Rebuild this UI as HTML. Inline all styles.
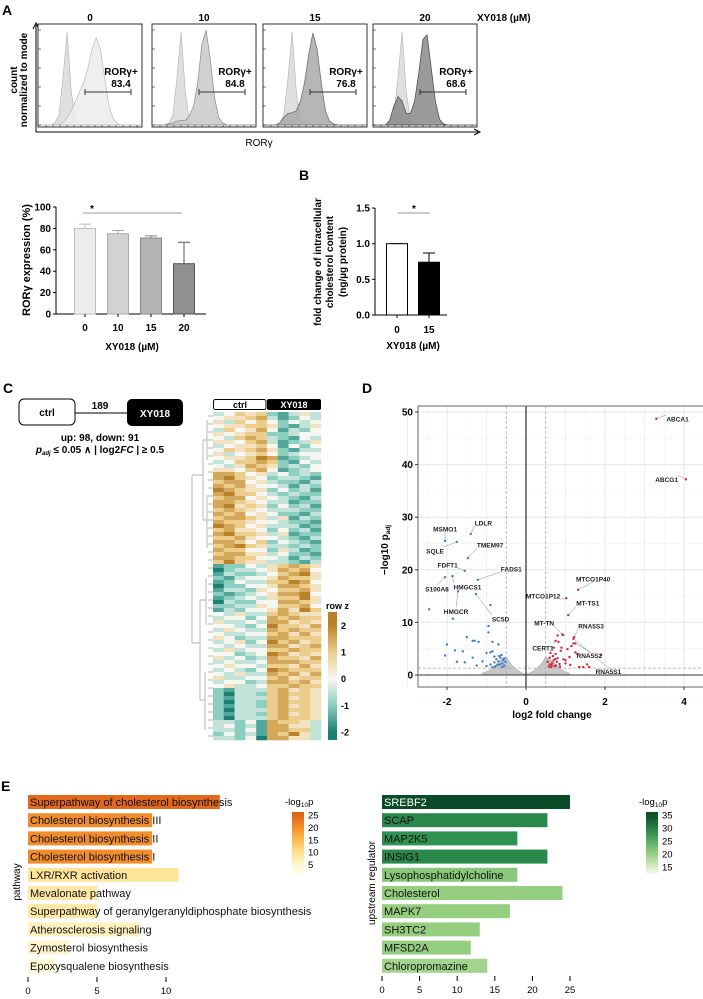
<!DOCTYPE html>
<html><head><meta charset="utf-8"><style>
html,body{margin:0;padding:0;background:#fff;}
svg{display:block;font-family:"Liberation Sans",Arial,sans-serif;}
</style></head><body>
<svg id="fig" width="703" height="999" viewBox="0 0 703 999" xmlns="http://www.w3.org/2000/svg">
<g font-weight="bold" font-size="14">
<text x="2" y="15">A</text>
<text x="299" y="180">B</text>
<text x="3" y="393">C</text>
<text x="362" y="393">D</text>
<text x="1" y="791">E</text>
</g>
<g id="static" font-weight="bold" font-size="10">
<text x="477" y="21">XY018 (µM)</text>
<text x="259" y="146" text-anchor="middle" font-weight="normal">RORγ</text>
<text transform="translate(17,80) rotate(-90)" text-anchor="middle">count</text>
<text transform="translate(27,80) rotate(-90)" text-anchor="middle">normalized to mode</text>
<text x="132" y="350" text-anchor="middle">XY018 (µM)</text>
<text transform="translate(30,260) rotate(-90)" text-anchor="middle" font-size="11">RORγ expression (%)</text>
<text x="413" y="349" text-anchor="middle">XY018 (µM)</text>
<text transform="translate(321,262) rotate(-90)" text-anchor="middle">fold change of intracellular</text>
<text transform="translate(333,262) rotate(-90)" text-anchor="middle">cholesterol content</text>
<text transform="translate(346,262) rotate(-90)" text-anchor="middle">(ng/µg protein)</text>
</g>
<g>
<rect x="19" y="399" width="56" height="26" rx="5" fill="#fff" stroke="#000" stroke-width="1"/>
<text x="47" y="416" text-anchor="middle" font-size="10" font-weight="bold">ctrl</text>
<line x1="75" y1="413" x2="127" y2="413" stroke="#000"/>
<text x="100" y="409" text-anchor="middle" font-size="10" font-weight="bold">189</text>
<rect x="127" y="399" width="56" height="27" rx="5" fill="#000"/>
<text x="155" y="417" text-anchor="middle" font-size="10" font-weight="bold" fill="#fff">XY018</text>
<text x="100" y="441" text-anchor="middle" font-size="10" font-weight="bold">up: 98, down: 91</text>
<text x="100" y="453" text-anchor="middle" font-size="10" font-weight="bold"><tspan font-style="italic">p</tspan><tspan font-style="italic" font-size="6" dy="2">adj</tspan><tspan dy="-2"> ≤ 0.05 ∧ | log2</tspan><tspan font-style="italic">FC</tspan><tspan> | ≥ 0.5</tspan></text>
</g>
</svg>
<script>
const NS='http://www.w3.org/2000/svg';
const svg=document.getElementById('fig');
function el(tag,attrs,parent){const e=document.createElementNS(NS,tag);for(const k in attrs)e.setAttribute(k,attrs[k]);(parent||svg).appendChild(e);return e;}
function tx(str,attrs,parent){const e=el('text',attrs,parent);e.textContent=str;return e;}

/* ===== Panel A histograms ===== */
const histDoses=['0','10','15','20'];
const histPct=['83.4','84.8','76.8','68.6'];
const histCtrl=[0,0,0,0,0.02,0.1,0.5,0.98,0.35,0.05,0.01,0,0,0,0,0,0,0,0,0,0,0,0,0,0,0];
const histS0=[0,0,0,0,0,0,0.03,0.08,0.15,0.25,0.35,0.45,0.6,0.8,0.92,0.8,0.5,0.22,0.07,0.02,0,0,0,0,0,0];
const histS1=[0,0,0,0,0.01,0.02,0.04,0.05,0.05,0.1,0.2,0.45,0.85,1.0,0.7,0.3,0.08,0.02,0,0,0,0,0,0,0,0];
const histS2=[0,0,0,0,0.02,0.08,0.12,0.13,0.15,0.25,0.45,0.75,0.97,0.8,0.45,0.15,0.04,0.01,0,0,0,0,0,0,0,0];
const histS3=[0,0,0,0,0.05,0.2,0.3,0.25,0.12,0.12,0.25,0.55,0.9,0.95,0.6,0.25,0.06,0.01,0,0,0,0,0,0,0,0];
const histSamples=[histS0,histS1,histS2,histS3];
const boxX=[38,152,263,373], boxW=104, boxTop=24, boxBot=127, base=125, hgt=95;
const fills=['#ececec','#c9c9c9','#a9a9a9','#8a8a8a'], strokes=['#bbb','#888','#666','#444'];
function hpath(vals,x0){let d='M'+x0+','+base;vals.forEach((v,i)=>{d+=' L'+(x0+i/(vals.length-1)*boxW).toFixed(1)+','+(base-v*hgt).toFixed(1);});return d+' L'+(x0+boxW)+','+base+' Z';}
const ax=el('path',{d:'M36,132 L36,25 M33,29 L36,23 L39,29 M36,132 L478,132 M474,129 L480,132 L474,135',fill:'none',stroke:'#000','stroke-width':1});


histDoses.forEach((d,i)=>{
  const x0=boxX[i];
  const g=el('g',{});
  
  
  const b=el('rect',{x:x0,y:boxTop,width:boxW,height:boxBot-boxTop,fill:'#fff',stroke:'#000','stroke-width':0.8},g);
  
  
  const c=el('path',{d:hpath(histCtrl,x0),fill:'#dcdcdc',stroke:'#aaa','stroke-width':0.6,opacity:0.9},g);
  
  
  const s=el('path',{d:hpath(histSamples[i],x0),fill:fills[i],stroke:strokes[i],'stroke-width':0.7,'fill-opacity':0.85},g);
  
  
  let tk='';for(let k=0;k<6;k++){const y=boxBot-2-k*19;tk+='M'+x0+','+y+' l3,0 ';}
  for(let k=0;k<14;k++){const x=x0+8+k*7;tk+='M'+x+','+boxBot+' l0,-2 ';}
  const t=el('path',{d:tk,stroke:'#000','stroke-width':0.5},g);
  
  
  const gl=x0+47, gr=x0+93;
  const gate=el('path',{d:`M${gl},92 L${gr},92 M${gl},89 L${gl},95 M${gr},89 L${gr},95`,stroke:'#333','stroke-width':1},g);
  
  
  const l1=tx('RORγ+',{x:x0+83,y:75,'text-anchor':'middle','font-size':10,'font-weight':'bold'},g);
  
  
  const l2=tx(histPct[i],{x:x0+83,y:87,'text-anchor':'middle','font-size':10,'font-weight':'bold'},g);
  
  
  const h=tx(d,{x:x0+boxW/2,y:21,'text-anchor':'middle','font-size':10,'font-weight':'bold'},g);
  
  
});

/* ===== Panel A bar chart ===== */
const aCats=['0','10','15','20'];
const aVals=[80,75,71,47];
const aErr=[84,78,73,67];
const aTicks=[0,20,40,60,80,100];
const aFill=['#ececec','#d2d2d2','#b4b4b4','#909090'], aStroke=['#bbb','#aaa','#888','#555'];
const aX=i=>85+i*33, aY=v=>314-v*1.07;
const aAx=el('path',{d:'M56,'+aY(100)+' L56,314 L206,314',fill:'none',stroke:'#000','stroke-width':1});


aTicks.forEach(t=>{
  const l=el('line',{x1:53,x2:56,y1:aY(t),y2:aY(t),stroke:'#000'});
  
  
  const s=tx(String(t),{x:51,y:aY(t)+3.5,'text-anchor':'end','font-size':10,'font-weight':'bold'});
  
  
});
aCats.forEach((c,i)=>{
  const x=aX(i);
  const e=el('path',{d:`M${x},${aY(aVals[i])} L${x},${aY(aErr[i])} M${x-6},${aY(aErr[i])} L${x+6},${aY(aErr[i])}`,stroke:aStroke[i],'stroke-width':1});
  
  
  const r=el('rect',{x:x-10.5,y:aY(aVals[i]),width:21,height:314-aY(aVals[i]),fill:aFill[i],stroke:aStroke[i],'stroke-width':1});
  
  
  const tk=el('line',{x1:x,x2:x,y1:314,y2:317,stroke:'#000'});
  
  
  const t=tx(c,{x:x,y:331,'text-anchor':'middle','font-size':10,'font-weight':'bold'});
  
  
});
const aSig=el('line',{x1:83,x2:182,y1:213,y2:213,stroke:'#999','stroke-width':1});


const aStar=tx('*',{x:92,y:212,'text-anchor':'middle','font-size':10,'font-weight':'bold'});



/* ===== Panel B bar chart ===== */
const bCats=['0','15'];
const bVals=[1.0,0.74];
const bErr=[1.0,0.87];
const bTicks=['0.0','0.5','1.0','1.5'];
const bX=i=>397+i*32, bY=v=>315-v*71.3;
const bAx=el('path',{d:'M375,'+bY(1.5)+' L375,315 L447,315',fill:'none',stroke:'#000','stroke-width':1});


bTicks.forEach(t=>{
  const v=parseFloat(t);
  const l=el('line',{x1:372,x2:375,y1:bY(v),y2:bY(v),stroke:'#000'});
  
  
  const s=tx(t,{x:370,y:bY(v)+3.5,'text-anchor':'end','font-size':10,'font-weight':'bold'});
  
  
});
bCats.forEach((c,i)=>{
  const x=bX(i);
  const e=el('path',{d:`M${x},${bY(bVals[i])} L${x},${bY(bErr[i])} M${x-6},${bY(bErr[i])} L${x+6},${bY(bErr[i])}`,stroke:'#000','stroke-width':1});
  
  
  const r=el('rect',{x:x-10.5,y:bY(bVals[i]),width:21,height:315-bY(bVals[i]),fill:i?'#000':'#fff',stroke:'#000','stroke-width':1});
  
  
  const tk=el('line',{x1:x,x2:x,y1:315,y2:318,stroke:'#000'});
  
  
  const t=tx(c,{x:x,y:333,'text-anchor':'middle','font-size':10,'font-weight':'bold'});
  
  
});
const bSig=el('line',{x1:398,x2:430,y1:213,y2:213,stroke:'#999','stroke-width':1});


const bStar=tx('*',{x:414,y:212,'text-anchor':'middle','font-size':10,'font-weight':'bold'});



/* ===== Panel C heatmap ===== */
const hmRows=[
"3465621353","4556731243","5364642434","4556652135","3645741324","5456622344","4367632143","5546731235","3455641424","4656752133","5345642344","4556871234","3466762143","4357652324","5546741234",
"7764534232","7865423321","6774532213","7675443132","8765524231","7866432322","6774543213","7765433122","7856524231","6765433322","7674542213","6776535132","7665443221","8764533312","6755424231","7866535122","6675443213","7764624321","6786533232","7664425312","6775534221","7766443132","6865533213",
"1224356765","0233457674","1322346785","2134457665","1243366874","0224457765","1332546675","2123457784","1234356685","0322447765","2233546674","1324457586",
"4353367655","3442476766","5334377565","4432486657","3543376766","4334467575","5423377666","3452486756","4343377567","3534466766","4423487565","5342376657","3433477766","4544366575","3432487666","4353376757","5334467566","3442377675","4533466766",
"2133367565","2033267665","2133367565","2033267665","2133267565","2033367665","2133267565","2033367665","3324176653","3423177553","3324177663","2423176853","3324077553"];
const hmCols=['ctrl','ctrl','ctrl','ctrl','ctrl','XY018','XY018','XY018','XY018','XY018'];
const zStops=[[-2,[26,128,116]],[-1,[140,206,192]],[0,[247,247,242]],[1,[236,205,140]],[2,[186,130,40]]];
function zcol(z){z=Math.max(-2,Math.min(2,z));for(let i=0;i<zStops.length-1;i++){const a=zStops[i],b=zStops[i+1];if(z<=b[0]){const t=(z-a[0])/(b[0]-a[0]);return 'rgb('+a[1].map((c,k)=>Math.round(c+(b[1][k]-c)*t)).join(',')+')';}}return 'rgb(186,130,40)';}
const hmX0=213,hmY0=412,hmW=108,hmH=328;
const cw=hmW/hmCols.length, rh=hmH/hmRows.length;
const hm=el('g',{});


hmRows.forEach((row,r)=>{
  for(let c=0;c<hmCols.length;c++){
    const z=(parseInt(row[c])-4)/2;
    const cell=el('rect',{x:(hmX0+c*cw).toFixed(2),y:(hmY0+r*rh).toFixed(2),width:(cw+0.3).toFixed(2),height:(rh+0.3).toFixed(2),fill:zcol(z)},hm);
    
    
  }
});
const hh1=el('rect',{x:213.5,y:399.5,width:52.5,height:10,rx:2,fill:'#fff',stroke:'#000'});


const hh1t=tx('ctrl',{x:240,y:408,'text-anchor':'middle','font-size':9,'font-weight':'bold'});


const hh2=el('rect',{x:267,y:399,width:54,height:11,rx:2,fill:'#000'});


const hh2t=tx('XY018',{x:294,y:408,'text-anchor':'middle','font-size':9,'font-weight':'bold',fill:'#fff'});


let dd='M192,475 L192,643 M192,475 L203,475 M203,440 L203,520 M203,440 L207,440 M203,520 L207,520 M207,420 L207,460 M207,495 L207,548 M192,643 L200,643 M200,600 L200,700 M200,600 L206,600 M200,700 L205,700 M206,578 L206,625 M205,672 L205,730';
for(let r=0;r<hmRows.length;r+=2){const y=(hmY0+r*rh+rh).toFixed(1);dd+=' M208,'+y+' L213,'+y;}
const den=el('path',{d:dd,fill:'none',stroke:'#999','stroke-width':0.7});


const zTicks=[2,1,0,-1,-2];
const cbTop=612,cbBot=740;
const grad=el('defs',{});
const lg=el('linearGradient',{id:'zg',x1:0,y1:0,x2:0,y2:1},grad);
[2.5,2,1,0,-1,-2,-2.3].forEach((z)=>{el('stop',{offset:((2.5-z)/4.8),'stop-color':zcol(z)},lg);});
const zc=el('rect',{x:328,y:cbTop,width:9,height:cbBot-cbTop,fill:'url(#zg)'});


const zt=tx('row z',{x:326,y:609,'font-size':9,'font-weight':'bold'});


zTicks.forEach(z=>{
  const y=cbTop+(2.5-z)/4.8*(cbBot-cbTop);
  const t=tx(String(z),{x:341,y:y+3.5,'font-size':9,'font-weight':'bold'});
  
  
});

/* ===== Panel D volcano ===== */
const vGenes=['ABCA1','ABCG1','LDLR','MSMO1','SQLE','TMEM97','FDFT1','FADS1','S100A8','HMGCS1','HMGCR','SC5D','MTCO1P40','MTCO1P12','MT-TS1','MT-TN','RNA5S3','CERT1','RNA5S2','RNA5S1'];
const vGeneFC=[3.3,4.05,-1.4,-2.05,-1.75,-1.47,-1.55,-1.22,-2.05,-1.86,-1.72,-1.27,1.32,1.02,1.07,0.94,1.22,0.75,1.25,1.2];
const vGeneP=[48.7,37.2,26.8,25.5,25.3,22.2,19.8,18.1,18.6,18.8,15.9,15.4,16.2,14.6,11.4,7.6,7.2,6.5,6.0,6.9];
const vLabelDx=[10,-8,4,0,-13,9,-7,23,-8,1,-2,16,15,-6,8,-9,4,-2,14,35];
const vLabelDy=[0,0,-11,-12,9,-13,-6,-11,12,11,20,25,-11,-2,-12,-12,-11,7,12,33];
const vLabelAnchor=['start','end','start','middle','end','start','end','start','middle','start','middle','start','middle','end','start','end','start','end','middle','middle'];
const vBlueFC=[-2.45,-1.85,-0.9,-2.0,-2.05,-1.8,-1.75,-1.6,-1.55,-1.5,-1.35,-1.3,-1.2,-1.35,-1.25,-0.95,-0.95,-0.85,-0.7,-1.0,-0.9,-0.85,-0.8,-0.75,-0.7,-0.65,-0.6,-0.55,-0.62,-0.58,-0.9,-0.8,-0.72,-0.68,-0.55,-1.1,-1.0,-0.85,-0.6,-0.52,-0.78,-0.66];
const vBlueP=[12.5,10.7,13.3,5.8,3.7,4.7,2.5,4.5,2.4,7.2,6.5,6.5,6.3,3.3,1.8,9.3,8.1,6.3,5.8,4.2,4.3,4.5,3.5,3.0,2.6,3.3,2.2,1.8,3.8,2.8,2.0,2.4,1.9,3.6,3.1,2.6,1.7,1.5,1.5,2.5,1.6,2.0];
const vRedFC=[0.55,0.6,0.65,0.7,0.75,0.8,0.85,0.9,0.62,0.68,0.72,0.78,0.82,0.88,0.95,1.0,1.05,1.1,1.15,1.2,1.25,1.3,1.35,1.45,1.55,1.6,1.9,0.58,0.66,0.74,0.86,0.92,1.0,1.12,0.8,0.7,0.6,0.64,0.76];
const vRedP=[2.5,3.3,1.9,2.8,4.0,3.2,2.1,5.2,4.2,3.6,1.7,2.5,6.3,4.6,3.0,2.2,4.9,3.4,5.5,6.0,4.3,4.0,1.5,1.5,2.0,1.5,3.8,1.6,2.3,3.0,1.6,7.7,2.8,1.9,7.5,5.2,2.0,1.5,1.8];
const vCloudFC=[-1.1,-1.0,-0.9,-0.8,-0.7,-0.6,-0.5,-0.4,-0.3,-0.2,-0.1,0,0.1,0.2,0.3,0.4,0.5,0.6,0.7,0.8,0.9,1.0,1.1];
const vCloudP=[0.3,0.6,1.0,1.6,2.4,3.2,3.4,2.2,1.4,0.8,0.4,0.05,0.4,0.8,1.4,2.2,3.4,3.0,2.4,1.6,1.0,0.6,0.3];
const vXT=[-2,0,2,4], vYT=[0,10,20,30,40,50];
const xV=v=>526+39.5*v, yV=v=>675-5.26*v;
const pL=418,pR=703,pT=406,pB=687;
const vg=el('g',{});


const bgR=el('rect',{x:pL,y:pT,width:pR-pL,height:pB-pT,fill:'#fff'},vg);


for(let v=-2.5;v<=4.5;v+=1){const l=el('line',{x1:xV(v),x2:xV(v),y1:pT,y2:pB,stroke:'#f2f2f2','stroke-width':0.6},vg);}
for(let v=-3;v<=4;v+=1){const l=el('line',{x1:xV(v),x2:xV(v),y1:pT,y2:pB,stroke:'#e6e6e6','stroke-width':v%2===0?1:0.6},vg);}
for(let v=-5;v<=50;v+=5){const l=el('line',{x1:pL,x2:pR,y1:yV(v),y2:yV(v),stroke:v%10===0?'#e6e6e6':'#f2f2f2','stroke-width':v%10===0?1:0.6},vg);}
let cd='M'+xV(vCloudFC[0])+','+yV(0);
vCloudFC.forEach((f,i)=>{cd+=' L'+xV(f).toFixed(1)+','+yV(vCloudP[i]).toFixed(1);});
cd+=' L'+xV(vCloudFC[vCloudFC.length-1])+','+yV(0)+' Z';
const cloud=el('path',{d:cd,fill:'#c8c8c8',stroke:'#bbb','stroke-width':1},vg);


[-0.5,0.5].forEach((v)=>{const l=el('line',{x1:xV(v),x2:xV(v),y1:pT,y2:pB,stroke:'#aaa','stroke-dasharray':'3,2','stroke-width':0.8},vg);});
const ph=el('line',{x1:pL,x2:pR,y1:yV(1.3),y2:yV(1.3),stroke:'#aaa','stroke-dasharray':'3,2','stroke-width':0.8},vg);


const z0=el('line',{x1:xV(0),x2:xV(0),y1:pT,y2:pB,stroke:'#000','stroke-width':1},vg);


const zh=el('line',{x1:pL,x2:pR,y1:yV(0),y2:yV(0),stroke:'#333','stroke-width':1},vg);


vBlueFC.forEach((f,i)=>{const c=el('circle',{cx:xV(f),cy:yV(vBlueP[i]),r:1.2,fill:'#3d7cc9'},vg);});
vRedFC.forEach((f,i)=>{const c=el('circle',{cx:xV(f),cy:yV(vRedP[i]),r:1.2,fill:'#d2283c'},vg);});
vGenes.forEach((g,i)=>{
  const px=xV(vGeneFC[i]),py=yV(vGeneP[i]);
  const lx=px+vLabelDx[i], ly=py+vLabelDy[i];
  const ln=el('line',{x1:px,y1:py,x2:lx,y2:ly+(vLabelDy[i]<0?3:-4),stroke:'#888','stroke-width':0.5},vg);
  
  
  const c=el('circle',{cx:px,cy:py,r:1.2,fill:vGeneFC[i]<0?'#3d7cc9':'#d2283c'},vg);
  
  
  const t=tx(g,{x:lx,y:ly+2.5,'text-anchor':vLabelAnchor[i],'font-size':6.5,'font-weight':'bold',fill:'#222'},vg);
  
  
});
const fr=el('path',{d:`M${pR},${pT} L${pL},${pT} L${pL},${pB} L${pR},${pB}`,fill:'none',stroke:'#666','stroke-width':1},vg);


vXT.forEach(v=>{
  const tk=el('line',{x1:xV(v),x2:xV(v),y1:pB,y2:pB+3,stroke:'#333'});
  
  
  const t=tx(String(v),{x:xV(v),y:705,'text-anchor':'middle','font-size':10,'font-weight':'bold'});
  
  
});
vYT.forEach(v=>{
  const tk=el('line',{x1:pL-3,x2:pL,y1:yV(v),y2:yV(v),stroke:'#333'});
  
  
  const t=tx(String(v),{x:pL-5,y:yV(v)+3.5,'text-anchor':'end','font-size':10,'font-weight':'bold'});
  
  
});
const vxt=tx('log2 fold change',{x:552,y:718,'text-anchor':'middle','font-size':10,'font-weight':'bold'});


const vyt=el('text',{transform:'translate(388,550) rotate(-90)','text-anchor':'middle','font-size':10,'font-weight':'bold'});
vyt.innerHTML='−log10 p<tspan font-size="6.5" dy="2">adj</tspan>';



/* ===== Panel E bar charts ===== */
const ePath=['Superpathway of cholesterol biosynthesis','Cholesterol biosynthesis III','Cholesterol biosynthesis II','Cholesterol biosynthesis I','LXR/RXR activation','Mevalonate pathway','Superpathway of geranylgeranyldiphosphate biosynthesis','Atherosclerosis signaling','Zymosterol biosynthesis','Epoxysqualene biosynthesis'];
const ePathRatio=[13.9,9.0,9.0,9.0,10.9,5.0,5.0,8.1,3.0,2.0];
const ePathP=[24,20,20,20,9,8,8,6,5,4];
const ePathTicks=[0,5,10];
const eReg=['SREBF2','SCAP','MAP2K5','INSIG1','Lysophosphatidylcholine','Cholesterol','MAPK7','SH3TC2','MFSD2A','Chloropromazine'];
const eRegZ=[25,22,18,22,18,24,17,13,11.8,14];
const eRegP=[35,29,28,29,21,20,20,20,20,19];
const eRegTicks=[0,5,10,15,20,25];
const eRowY=i=>802+i*18.2;
const oStops=[[3,[255,252,228]],[10,[254,224,140]],[18,[248,160,50]],[25,[222,96,24]]];
const gStops=[[12,[248,252,232]],[20,[150,206,128]],[28,[46,146,80]],[35,[10,76,40]]];
function ramp(st,v){v=Math.max(st[0][0],Math.min(st[st.length-1][0],v));for(let i=0;i<st.length-1;i++){const a=st[i],b=st[i+1];if(v<=b[0]){const t=(v-a[0])/(b[0]-a[0]);return 'rgb('+a[1].map((c,k)=>Math.round(c+(b[1][k]-c)*t)).join(',')+')';}}}
function ebars(cats,vals,ps,stops,x0,scale,prefix,whiteTop){
  cats.forEach((c,i)=>{
    const y=eRowY(i);
    const r=el('rect',{x:x0,y:y-7,width:vals[i]*scale,height:14,fill:ramp(stops,ps[i])});
    
    
    const t=tx(c,{x:x0+2,y:y+4,'font-size':11,fill:(whiteTop&&i===0)?'#fff':'#111'});
    
    
  });
}
ebars(ePath,ePathRatio,ePathP,oStops,28,13.8,'pathway',false);
ebars(eReg,eRegZ,eRegP,gStops,382,7.52,'regulator',true);
ePathTicks.forEach(v=>{
  const tk=el('line',{x1:28+v*13.8,x2:28+v*13.8,y1:977,y2:982,stroke:'#000'});
  
  
  const t=tx(String(v),{x:28+v*13.8,y:994,'text-anchor':'middle','font-size':9.5});
  
  
});
eRegTicks.forEach(v=>{
  const tk=el('line',{x1:382+v*7.52,x2:382+v*7.52,y1:976,y2:981,stroke:'#000'});
  
  
  const t=tx(String(v),{x:382+v*7.52,y:993,'text-anchor':'middle','font-size':9.5});
  
  
});
const py1=tx('pathway',{transform:'translate(20,882) rotate(-90)','text-anchor':'middle','font-size':10});


const py2=tx('upstream regulator',{transform:'translate(375,883) rotate(-90)','text-anchor':'middle','font-size':10});


const oLeg=[25,20,15,10,5];
const gLeg=[35,30,25,20,15];
function legend(x,stops,ticks,lo,hi,id,prefix){
  const defs=el('defs',{});
  const g=el('linearGradient',{id:id,x1:0,y1:0,x2:0,y2:1},defs);
  for(let k=0;k<=10;k++){el('stop',{offset:k/10,'stop-color':ramp(stops,hi-(hi-lo)*k/10)},g);}
  const r=el('rect',{x:x,y:812,width:12,height:62,fill:'url(#'+id+')'});
  
  
  const tt=el('text',{x:x-7,y:805,'font-size':9.5});
  tt.innerHTML='-log<tspan font-size="6.5" dy="2">10</tspan><tspan dy="-2">p</tspan>';
  
  
  ticks.forEach(v=>{
    const y=812+(hi-v)/(hi-lo)*62;
    const t=tx(String(v),{x:x+16,y:y+4,'font-size':9.5});
    
    
  });
}
legend(292,oStops,oLeg,1,26,'og','pathway');
legend(646,gStops,gLeg,12,36,'gg','regulator');
</script>
</body></html>
